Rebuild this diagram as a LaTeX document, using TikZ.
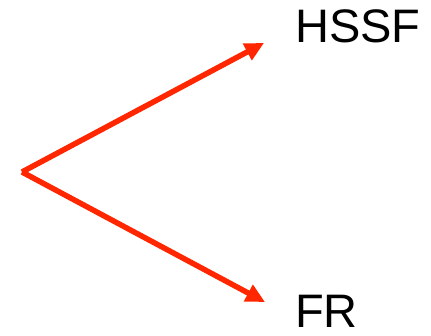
\documentclass[tikz,border=0pt]{standalone}
\usepackage{fontspec}
\setmainfont{Liberation Sans}
\usetikzlibrary{arrows.meta}
\definecolor{arrowred}{RGB}{255,38,0}
\begin{document}
\begin{tikzpicture}[x=1pt,y=1pt,
  arr/.style={draw=arrowred,line width=5.5pt,-{Triangle[length=19pt,width=18pt]}},
  lbl/.style={anchor=base west,inner sep=0pt,font=\fontsize{47}{50}\selectfont}]
\useasboundingbox (0,0) rectangle (431,335);
\coordinate (o) at (22,163);
\coordinate (t1) at (264,292);
\coordinate (t2) at (265,33);
\node[lbl] (h) at (295,292) {HSSF};
\node[lbl] (f) at (295,8) {FR};
\draw[arr] (o) -- (t1);
\draw[arr] (o) -- (t2);
\end{tikzpicture}
\end{document}
